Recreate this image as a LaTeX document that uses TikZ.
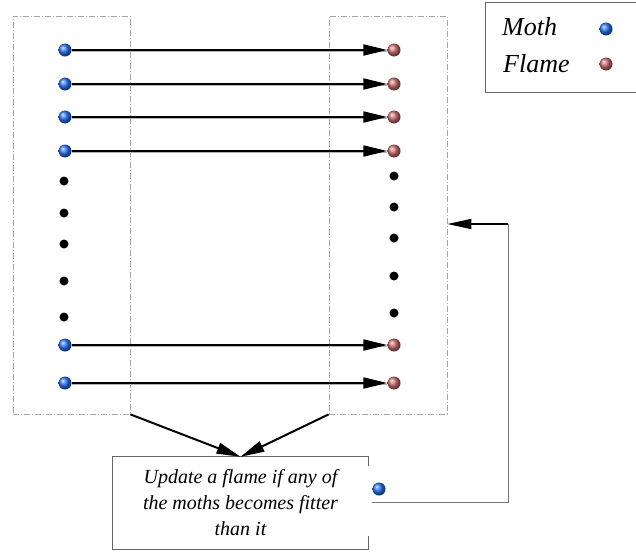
\documentclass[tikz,border=0pt]{standalone}
\usepackage{fontspec}
\setmainfont{Liberation Serif}
\usetikzlibrary{arrows.meta}
\definecolor{mothc}{RGB}{40,115,245}
\definecolor{flamec}{RGB}{205,110,110}
\tikzset{
  mothball/.style={circle, inner sep=0pt, minimum size=13pt, ball color=mothc},
  flameball/.style={circle, inner sep=0pt, minimum size=13pt, ball color=flamec},
  blackdot/.style={circle, fill=black, inner sep=0pt, minimum size=9pt},
  dashbox/.style={draw=black!35, line width=0.7pt, dash pattern=on 6pt off 2pt on 1pt off 2pt, inner sep=0pt},
  arr/.style={line width=2pt, -{Triangle[length=24pt,width=11pt]}},
  shadowarr/.style={arr, preaction={draw=black!30, line width=1.2pt, arrows=-, transform canvas={yshift=-1.3pt}}},
  greyline/.style={draw=black!55, line width=1pt},
  boxline/.style={draw=black!60, line width=0.8pt},
  legtext/.style={font=\fontsize{26}{30}\selectfont\itshape, anchor=base west, inner sep=0pt},
}
\begin{document}
\begin{tikzpicture}[x=1pt,y=-1pt]
\useasboundingbox (0,0) rectangle (636,552);
% dashed columns
\node[dashbox, minimum width=117pt, minimum height=398pt] (lbox) at (71.5,215) {};
\node[dashbox, minimum width=118pt, minimum height=398pt] (rbox) at (388,215) {};
% moths and flames
\foreach \i/\y in {1/50,2/84,3/117,4/151,5/345,6/383} {
  \node[mothball] (m\i) at (65,\y) {};
  \node[flameball] (f\i) at (394,\y) {};
}
\foreach \i/\y in {1/181,2/213,3/244,4/281,5/317} {
  \node[blackdot] (ld\i) at (64,\y) {};
}
\foreach \i/\y in {1/176,2/207,3/238,4/276,5/313} {
  \node[blackdot] (rd\i) at (394,\y) {};
}
\foreach \i in {1,...,6} {
  \draw[shadowarr] (m\i) -- (f\i);
}
% legend
\node[boxline, anchor=north west, minimum width=160pt, minimum height=90pt, inner sep=0pt] (leg) at (485,2) {};
\node[legtext] (lmoth) at (502,35) {Moth};
\node[legtext] (lflame) at (503,72) {Flame};
\node[mothball] (lm) at (606,29) {};
\node[flameball] (lf) at (606,64) {};
% update box
\node[minimum width=255pt, minimum height=92pt, inner sep=0pt, align=center,
      font=\fontsize{20}{26}\selectfont\itshape] (upd) at (240.5,503)
  {Update a flame if any of\\the moths becomes fitter\\than it};
\draw[boxline] ([yshift=-9pt]upd.north east) -- (upd.north east) -- (upd.north west)
  -- (upd.south west) -- (upd.south east) -- ++(0,-13);
\draw[arr] (lbox.south east) -- (upd.north);
\draw[arr] (rbox.south west) -- (upd.north);
% feedback
\node[mothball] (fb) at (379,489) {};
\coordinate (fbs) at (372,502);
\coordinate (turn) at (508,224);
\draw[greyline] (fbs) -- (fbs -| turn) -- (turn);
\draw[line width=1.6pt, -{Triangle[length=24pt,width=10pt]}] (turn) -- (rbox.east |- turn);
\end{tikzpicture}
\end{document}
